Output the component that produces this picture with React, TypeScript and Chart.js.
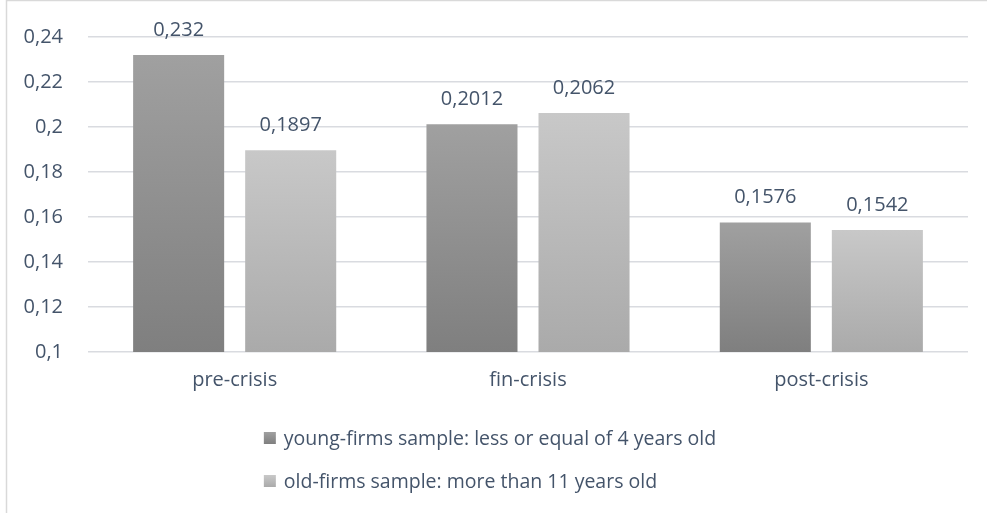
import React, { useEffect, useRef } from "react";
import { Chart, registerables } from "chart.js";

Chart.register(...registerables);

// Data
const categories = ["pre-crisis", "fin-crisis", "post-crisis"];
const youngFirms = [0.232, 0.2012, 0.1576];
const oldFirms = [0.1897, 0.2062, 0.1542];
const seriesLabels = [
  "young-firms sample: less or equal of 4 years old",
  "old-firms sample: more than 11 years old",
];
const yMin = 0.1;
const yMax = 0.24;
const yStep = 0.02;

// Styles
const FONT = "'Open Sans', sans-serif";
const TEXT_COLOR = "#44546A";
const GRID_COLOR = "#d9dbe0";
const FRAME_COLOR = "#d9d9d9";
const darkStops: [string, string] = ["#a0a0a0", "#7f7f7f"];
const lightStops: [string, string] = ["#c8c8c8", "#aaaaaa"];

const fmt = (v: number) => String(Number(v.toFixed(4))).replace(".", ",");

// Vertical gradient spanning each bar from its top to the axis base
const barFill = (stops: [string, string]) => (ctx: any) => {
  const chart = ctx.chart;
  const y = chart.scales && chart.scales.y;
  if (!y || ctx.type !== "data") return stops[1];
  const top = y.getPixelForValue(ctx.raw as number);
  const bottom = y.getPixelForValue(y.min);
  if (!isFinite(top) || !isFinite(bottom) || top === bottom) return stops[1];
  const g = chart.ctx.createLinearGradient(0, top, 0, bottom);
  g.addColorStop(0, stops[0]);
  g.addColorStop(1, stops[1]);
  return g;
};

// Chart frame (left and top edges)
const framePlugin = {
  id: "frame",
  beforeDraw(chart: any) {
    const c = chart.ctx;
    c.save();
    c.strokeStyle = FRAME_COLOR;
    c.lineWidth = 1.5;
    c.beginPath();
    c.moveTo(6.5, chart.height);
    c.lineTo(6.5, 0.5);
    c.lineTo(chart.width, 0.5);
    c.stroke();
    c.restore();
  },
};

// Value labels above bars
const valueLabels = {
  id: "valueLabels",
  afterDatasetsDraw(chart: any) {
    const c = chart.ctx;
    c.save();
    c.font = `20px ${FONT}`;
    c.fillStyle = TEXT_COLOR;
    c.textAlign = "center";
    c.textBaseline = "middle";
    chart.data.datasets.forEach((ds: any, di: number) => {
      const meta = chart.getDatasetMeta(di);
      meta.data.forEach((bar: any, i: number) => {
        c.fillText(fmt(ds.data[i]), bar.x, bar.y - 25);
      });
    });
    c.restore();
  },
};

// Stacked two-row legend below the plot
const stackedLegend = {
  id: "stackedLegend",
  afterDraw(chart: any) {
    const c = chart.ctx;
    c.save();
    c.font = `19.5px ${FONT}`;
    const box = 12;
    const gap = 8;
    const widths = chart.data.datasets.map((d: any) => c.measureText(d.label).width);
    const total = box + gap + Math.max(...widths);
    const x0 = 490 - total / 2;
    const rows = [438, 481];
    const stops = [darkStops, lightStops];
    chart.data.datasets.forEach((d: any, i: number) => {
      const cy = rows[i];
      const g = c.createLinearGradient(0, cy - box / 2, 0, cy + box / 2);
      g.addColorStop(0, stops[i][0]);
      g.addColorStop(1, stops[i][1]);
      c.fillStyle = g;
      c.fillRect(x0, cy - box / 2, box, box);
      c.fillStyle = TEXT_COLOR;
      c.textAlign = "left";
      c.textBaseline = "middle";
      c.fillText(d.label, x0 + box + gap, cy + 1);
    });
    c.restore();
  },
};

export default function App() {
  const canvasRef = useRef<HTMLCanvasElement | null>(null);

  useEffect(() => {
    document.body.style.margin = "0";
    let chart: Chart | null = null;
    let cancelled = false;
    const build = () => {
      if (cancelled || !canvasRef.current) return;
      chart = new Chart(canvasRef.current, {
        type: "bar",
        data: {
          labels: categories,
          datasets: [
            {
              label: seriesLabels[0],
              data: youngFirms,
              backgroundColor: barFill(darkStops),
              borderWidth: 0,
              categoryPercentage: 0.764,
              barPercentage: 0.8125,
            },
            {
              label: seriesLabels[1],
              data: oldFirms,
              backgroundColor: barFill(lightStops),
              borderWidth: 0,
              categoryPercentage: 0.764,
              barPercentage: 0.8125,
            },
          ],
        },
        options: {
          responsive: false,
          animation: false,
          devicePixelRatio: 1,
          layout: { padding: { top: 28, right: 19, bottom: 100, left: 0 } },
          plugins: {
            legend: { display: false },
            tooltip: { enabled: false },
          },
          scales: {
            x: {
              grid: { display: false, drawTicks: false },
              border: { display: false },
              ticks: {
                color: TEXT_COLOR,
                font: { family: FONT, size: 20 },
                padding: 16,
              },
              afterFit: (s: any) => {
                s.height = 61;
              },
            },
            y: {
              min: yMin,
              max: yMax,
              grid: { color: GRID_COLOR, lineWidth: 1.5, drawTicks: false },
              border: { display: false },
              ticks: {
                stepSize: yStep,
                color: TEXT_COLOR,
                font: { family: FONT, size: 20 },
                padding: 25,
                callback: (v: any) => fmt(Number(v)),
              },
              afterFit: (s: any) => {
                s.width = 88;
              },
            },
          },
        },
        plugins: [framePlugin, valueLabels, stackedLegend],
      });
    };
    const fonts: any = (document as any).fonts;
    if (fonts && fonts.load) {
      fonts.load(`20px ${FONT}`).then(build, build);
    } else {
      build();
    }
    return () => {
      cancelled = true;
      if (chart) chart.destroy();
    };
  }, []);

  return (
    <div style={{ width: 987, height: 513, background: "#ffffff" }}>
      <canvas ref={canvasRef} width={987} height={513} style={{ display: "block" }} />
    </div>
  );
}
